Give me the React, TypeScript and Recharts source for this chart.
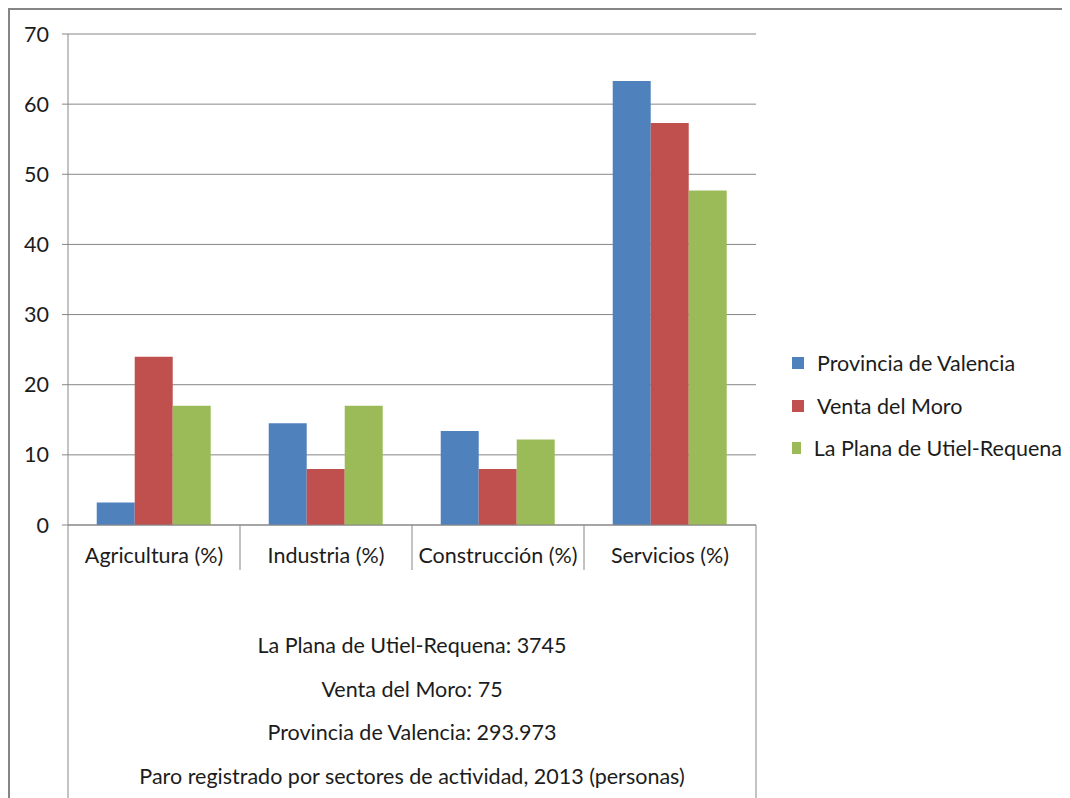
import React from 'react';
import { BarChart, Bar, XAxis, YAxis, CartesianGrid, Legend } from 'recharts';

// Unemployment share by activity sector, 2013
const sectors = ['Agricultura (%)', 'Industria (%)', 'Construcción (%)', 'Servicios (%)'];
const provinciaValencia = [3.2, 14.5, 13.4, 63.3];
const ventaDelMoro = [24.0, 8.0, 8.0, 57.3];
const planaUtielRequena = [17.0, 17.0, 12.2, 47.7];

const seriesNames = ['Provincia de Valencia', 'Venta del Moro', 'La Plana de Utiel-Requena'];
const seriesKeys = ['provincia', 'venta', 'plana'];
const seriesColors = ['#4F81BD', '#C0504D', '#9BBB59'];

const yTicks = [0, 10, 20, 30, 40, 50, 60, 70];

const groupLabelLines = [
  'La Plana de Utiel-Requena: 3745',
  'Venta del Moro: 75',
  'Provincia de Valencia: 293.973',
  'Paro registrado por sectores de actividad, 2013 (personas)',
];

const data = sectors.map((sector, i) => ({
  sector,
  provincia: provinciaValencia[i],
  venta: ventaDelMoro[i],
  plana: planaUtielRequena[i],
}));

const FONT = 'Lato, "Open Sans", sans-serif';
const FONT_SIZE = 21.5;
const TEXT = '#1c1c1c';
const LINE = '#878787';

const CategoryTick = (props: any) => {
  const { x, y, payload, index, width, visibleTicksCount } = props;
  const count = visibleTicksCount || sectors.length;
  const band =
    typeof width === 'number' && width > 0 ? width / count : (payload?.offset ?? 0) * 2;
  const half = band / 2;
  const left = x - half;
  const right = left + band * count;
  const center = (left + right) / 2;
  return (
    <g>
      <text
        x={x}
        y={y + 30}
        textAnchor="middle"
        dominantBaseline="central"
        fill={TEXT}
        fontFamily={FONT}
        fontSize={FONT_SIZE}
      >
        {payload.value}
      </text>
      {index < count - 1 && (
        <line x1={x + half} x2={x + half} y1={y} y2={y + 45} stroke={LINE} strokeWidth={1} />
      )}
      {index === 0 && (
        <g>
          <line x1={left} x2={left} y1={y} y2={y + 280} stroke={LINE} strokeWidth={1} />
          <line x1={right} x2={right} y1={y} y2={y + 280} stroke={LINE} strokeWidth={1} />
          {groupLabelLines.map((line, i) => (
            <text
              key={line}
              x={center}
              y={y + 120 + i * 43.7}
              textAnchor="middle"
              dominantBaseline="central"
              fill={TEXT}
              fontFamily={FONT}
              fontSize={FONT_SIZE}
            >
              {line}
            </text>
          ))}
        </g>
      )}
    </g>
  );
};

// Legend entries listed in series order
const renderLegend = (props: any) => {
  const items = [...(props.payload || [])].sort(
    (a: any, b: any) => seriesNames.indexOf(a.value) - seriesNames.indexOf(b.value)
  );
  return (
    <div style={{ fontFamily: FONT, fontSize: FONT_SIZE, color: TEXT }}>
      {items.map((entry: any) => (
        <div
          key={entry.value}
          style={{ display: 'flex', alignItems: 'center', height: 42.5, whiteSpace: 'nowrap' }}
        >
          <span
            style={{
              display: 'inline-block',
              width: 12,
              height: 12,
              background: entry.color,
              marginRight: 13,
            }}
          />
          <span>{entry.value}</span>
        </div>
      ))}
    </div>
  );
};

export default function App() {
  return (
    <div style={{ position: 'relative', width: 1062, height: 790, overflow: 'hidden', background: '#fff' }}>
      <div
        style={{
          position: 'absolute',
          left: 0,
          top: 0,
          width: 1200,
          height: 1000,
          border: '2px solid #858585',
          pointerEvents: 'none',
        }}
      />
      <BarChart
        width={1062}
        height={790}
        data={data}
        margin={{ top: 26, right: 314, bottom: 0, left: 0 }}
        barCategoryGap="16.7%"
        barGap={0}
      >
        <CartesianGrid horizontal vertical={false} stroke={LINE} strokeWidth={1} />
        <XAxis
          dataKey="sector"
          height={273}
          tickSize={0}
          tickMargin={0}
          tickLine={false}
          axisLine={{ stroke: LINE, strokeWidth: 1 }}
          interval={0}
          tick={<CategoryTick />}
        />
        <YAxis
          width={60}
          domain={[0, 70]}
          ticks={yTicks}
          interval={0}
          tickSize={6}
          tickMargin={13}
          axisLine={{ stroke: LINE, strokeWidth: 1 }}
          tickLine={{ stroke: LINE, strokeWidth: 1 }}
          tick={{ fill: TEXT, fontFamily: FONT, fontSize: FONT_SIZE }}
        />
        <Legend
          layout="horizontal"
          verticalAlign="middle"
          align="center"
          content={renderLegend}
          wrapperStyle={{ position: 'absolute', left: 784, top: 334, width: 270 }}
        />
        {seriesKeys.map((key, i) => (
          <Bar
            key={key}
            dataKey={key}
            name={seriesNames[i]}
            fill={seriesColors[i]}
            isAnimationActive={false}
          />
        ))}
      </BarChart>
    </div>
  );
}
